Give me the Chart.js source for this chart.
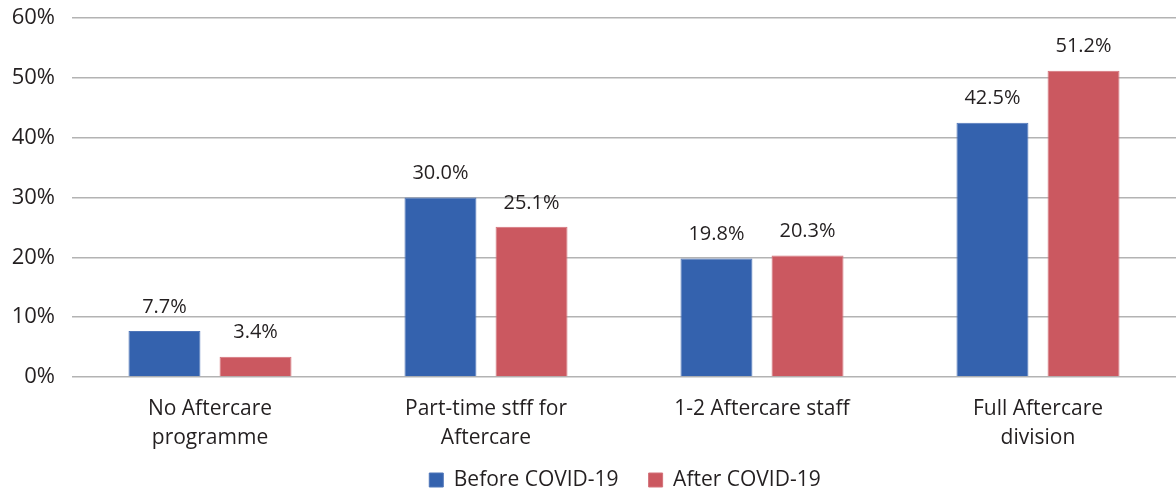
<!DOCTYPE html>
<html><head><meta charset="utf-8">
<script src="https://cdn.jsdelivr.net/npm/chart.js@4"></script>
<style>html,body{margin:0;padding:0;background:#fff;}canvas{display:block;}</style>
</head><body>
<canvas id="c" width="1176" height="494"></canvas>
<script>
const categories = [["No Aftercare","programme"],["Part-time stff for","Aftercare"],["1-2 Aftercare staff"],["Full Aftercare","division"]];
const beforeCovid = [7.7, 30.0, 19.8, 42.5];
const afterCovid = [3.4, 25.1, 20.3, 51.2];
const yTicks = [0,10,20,30,40,50,60];
const seriesNames = ["Before COVID-19","After COVID-19"];

const FONT = "'Open Sans', sans-serif";
const TXT = '#231f20';

const valueLabels = {
  id: 'valueLabels',
  afterDatasetsDraw(chart) {
    const ctx = chart.ctx;
    ctx.save();
    ctx.font = "20px " + FONT;
    ctx.fillStyle = TXT;
    ctx.textAlign = 'center';
    ctx.textBaseline = 'middle';
    chart.data.datasets.forEach((ds, i) => {
      chart.getDatasetMeta(i).data.forEach((bar, j) => {
        ctx.fillText(ds.data[j].toFixed(1) + '%', bar.x, bar.y - 24);
      });
    });
    ctx.restore();
  }
};

const legendPlace = {
  id: 'legendPlace',
  beforeInit(chart) {
    const origFit = chart.legend.fit;
    chart.legend.fit = function () {
      origFit.call(this);
      this.height = 39;
    };
  },
  afterLayout(chart) {
    const lg = chart.legend;
    const shift = 37;
    lg.top = 439.5; lg.bottom = 494;
    lg.left += shift; lg.right += shift;
    if (lg.adjustHitBoxes) lg.adjustHitBoxes();
  }
};

new Chart(document.getElementById('c'), {
  type: 'bar',
  data: {
    labels: categories,
    datasets: [
      {label: seriesNames[0], data: beforeCovid, backgroundColor: '#3462ae', borderColor: '#4f76b9', borderWidth: 1},
      {label: seriesNames[1], data: afterCovid, backgroundColor: '#cb5860', borderColor: '#d4727a', borderWidth: 1}
    ]
  },
  options: {
    responsive: false,
    animation: false,
    devicePixelRatio: 1,
    layout: {autoPadding: false, padding: {top: 18, right: 0, left: 0, bottom: 0}},
    datasets: {bar: {categoryPercentage: 0.66, barPercentage: 0.79}},
    plugins: {
      legend: {
        position: 'bottom',
        labels: {font: {family: FONT, size: 21}, color: TXT, boxWidth: 14, boxHeight: 14, padding: 30, useBorderRadius: false}
      },
      tooltip: {enabled: false}
    },
    scales: {
      x: {
        grid: {display: false, drawTicks: false},
        border: {display: false},
        afterFit: (scale) => { scale.height = 78; scale.paddingLeft = 0; scale.paddingRight = 0; },
        ticks: {font: {family: FONT, size: 21, lineHeight: 1.38}, color: TXT, padding: 18, maxRotation: 0}
      },
      y: {
        min: 0, max: 60,
        afterFit: (scale) => { scale.width = 72; scale.paddingTop = 0; scale.paddingBottom = 0; },
        afterBuildTicks: (axis) => { axis.ticks = yTicks.map(v => ({value: v})); },
        grid: {color: '#b3b3b3', lineWidth: 1.5, drawTicks: false},
        border: {display: false},
        ticks: {font: {family: FONT, size: 22}, color: TXT, padding: 17, callback: v => v + '%'}
      }
    }
  },
  plugins: [valueLabels, legendPlace]
});
</script>
</body></html>
